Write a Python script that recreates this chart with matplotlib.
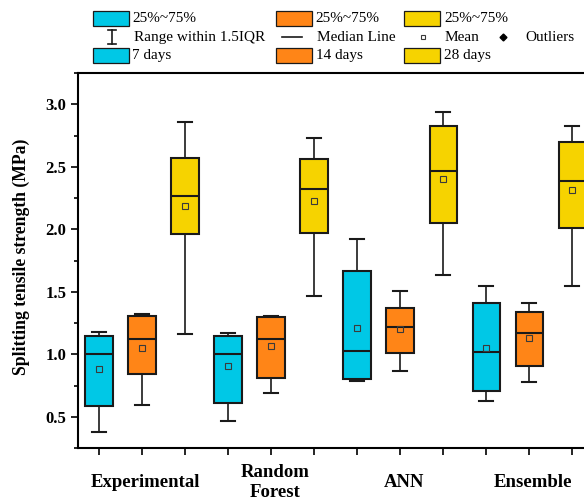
import matplotlib
matplotlib.use("Agg")
import matplotlib.pyplot as plt
from matplotlib.patches import Rectangle
from matplotlib.ticker import MultipleLocator, FixedLocator
from matplotlib.transforms import blended_transform_factory

plt.rcParams['font.family'] = ['Liberation Serif', 'DejaVu Serif']

# Splitting tensile strength (MPa) by method and curing age
groups = ["Experimental", "Random\nForest", "ANN", "Ensemble"]
ages = ["7 days", "14 days", "28 days"]
age_colors = ["#00C8E6", "#FF8517", "#F6D300"]

# one entry per box: (group, age) in order Exp7, Exp14, Exp28, RF7, ...
whishi = [1.18, 1.32, 2.86, 1.17, 1.31, 2.73, 1.92, 1.51, 2.94, 1.55, 1.41, 2.83]
q3     = [1.15, 1.31, 2.57, 1.15, 1.30, 2.56, 1.67, 1.37, 2.83, 1.41, 1.34, 2.70]
median = [1.00, 1.12, 2.27, 1.00, 1.125, 2.32, 1.03, 1.22, 2.47, 1.02, 1.175, 2.39]
mean   = [0.885, 1.05, 2.185, 0.905, 1.065, 2.23, 1.21, 1.20, 2.40, 1.055, 1.135, 2.315]
q1     = [0.59, 0.84, 1.965, 0.61, 0.815, 1.97, 0.80, 1.01, 2.05, 0.71, 0.905, 2.01]
whislo = [0.38, 0.60, 1.16, 0.47, 0.69, 1.47, 0.785, 0.87, 1.635, 0.63, 0.78, 1.55]

W, H = 584, 504
fig = plt.figure(figsize=(W / 100, H / 100), dpi=100)

left_px, right_px, top_px, bottom_px = 77.7, 593.8, 73.0, 448.3
ax = fig.add_axes([left_px / W, (H - bottom_px) / H,
                   (right_px - left_px) / W, (bottom_px - top_px) / H])

stats = []
for i in range(len(median)):
    stats.append(dict(whislo=whislo[i], q1=q1[i], med=median[i], mean=mean[i],
                      q3=q3[i], whishi=whishi[i], fliers=[]))

positions = list(range(1, len(stats) + 1))
ink = "#1a1a1a"
bp = ax.bxp(stats, positions=positions, widths=0.64, patch_artist=True,
            showmeans=True, meanline=False, showfliers=False, capwidths=0.33,
            boxprops=dict(linewidth=1.5, edgecolor=ink),
            whiskerprops=dict(linewidth=1.2, color=ink),
            capprops=dict(linewidth=1.5, color=ink),
            medianprops=dict(linewidth=1.5, color=ink),
            meanprops=dict(marker='s', markersize=4, markerfacecolor='none',
                           markeredgecolor='#3a3a3a', markeredgewidth=0.8))
for i, box in enumerate(bp['boxes']):
    box.set_facecolor(age_colors[i % len(ages)])

ax.set_xlim(0.5, 12.5)
ax.set_ylim(0.25, 3.25)

# y axis
ax.yaxis.set_major_locator(FixedLocator([0.5, 1.0, 1.5, 2.0, 2.5, 3.0]))
ax.yaxis.set_minor_locator(MultipleLocator(0.25))
ax.yaxis.set_major_formatter('{x:.1f}')
ax.tick_params(axis='y', which='major', direction='out', length=5, width=1.2,
               labelsize=12, pad=3)
ax.tick_params(axis='y', which='minor', direction='out', length=2.8, width=1.2)
for lab in ax.get_yticklabels():
    lab.set_fontweight('bold')

# x axis: a tick under each box, group names centred under each group
ax.xaxis.set_major_locator(FixedLocator(positions))
ax.xaxis.set_major_formatter('')
ax.tick_params(axis='x', which='major', direction='out', length=5, width=1.2)
group_centres = [positions[g * 3 + 1] for g in range(len(groups))]
trans = blended_transform_factory(ax.transData, ax.transAxes)
label_y = -(482.5 - bottom_px) / (bottom_px - top_px)
for xc, name in zip(group_centres, groups):
    ax.text(xc + 0.08, label_y, name, transform=trans, ha='center', va='center',
            fontsize=13.5, fontweight='bold', multialignment='center',
            linespacing=1.2, clip_on=False)

for side in ['left', 'bottom', 'top']:
    ax.spines[side].set_linewidth(1.5)
ax.spines['right'].set_visible(False)

fig.text(21 / W, 1 - 257 / H, "Splitting tensile strength (MPa)",
         rotation=90, ha='center', va='center', fontsize=12.7, fontweight='bold')

# legend block above the plot
lax = fig.add_axes([0, 0, 1, 1], zorder=5)
lax.set_xlim(0, W)
lax.set_ylim(H, 0)
lax.axis('off')

leg_fs = 11
row_y = [18.3, 37.3, 55.3]
patch_x = [93.3, 276.4, 404.3]
text_x = [132.3, 315.8, 444.0]
pw, ph = 36, 15.5
for k in range(3):
    for r in (0, 2):
        lax.add_patch(Rectangle((patch_x[k], row_y[r] - ph / 2), pw, ph,
                                facecolor=age_colors[k], edgecolor=ink, lw=0.9))
    lax.text(text_x[k], row_y[0], "25%~75%", fontsize=leg_fs, va='center', ha='left')
    lax.text(text_x[k], row_y[2], ages[k], fontsize=leg_fs, va='center', ha='left')

# whisker symbol
yc = row_y[1]
lax.plot([112, 112], [yc - 6.8, yc + 6.8], color=ink, lw=1.2)
lax.plot([108, 116], [yc - 6.8, yc - 6.8], color=ink, lw=1.2)
lax.plot([108, 116], [yc + 6.8, yc + 6.8], color=ink, lw=1.2)
lax.text(134.3, yc, "Range within 1.5IQR", fontsize=leg_fs, va='center', ha='left')
lax.plot([282, 301.7], [yc, yc], color=ink, lw=1.2)
lax.text(317, yc, "Median Line", fontsize=leg_fs, va='center', ha='left')
lax.plot([422.7], [yc], marker='s', markersize=3.5, mfc='none', mec='#3a3a3a', mew=0.8)
lax.text(445, yc, "Mean", fontsize=leg_fs, va='center', ha='left')
lax.plot([502.5], [yc], marker='D', markersize=3.5, color='black')
lax.text(525.5, yc, "Outliers", fontsize=leg_fs, va='center', ha='left')

fig.savefig("out.png", dpi=100)
